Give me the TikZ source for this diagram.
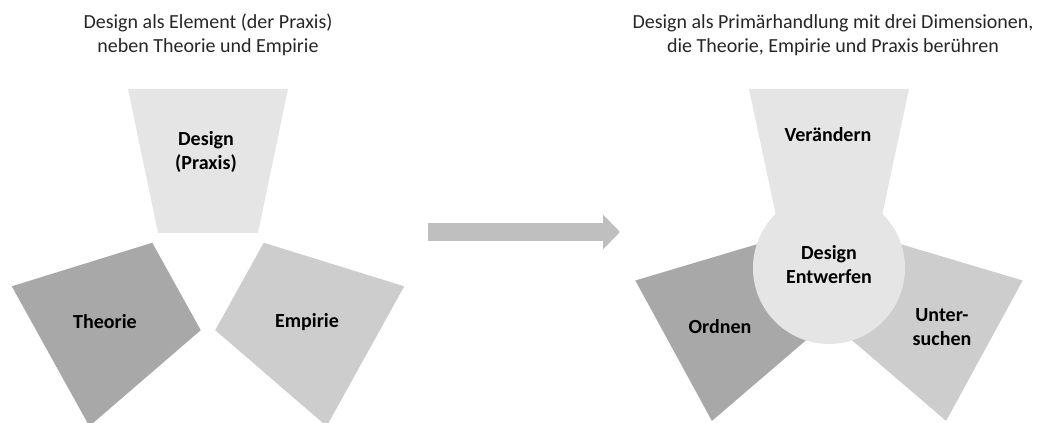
\documentclass[tikz,border=0pt]{standalone}
\usepackage{fontspec}
\setmainfont{Carlito}
\usepackage{xcolor}
\usetikzlibrary{arrows.meta}
\definecolor{petallight}{RGB}{229, 229, 229}
\definecolor{petaldark}{RGB}{168, 168, 168}
\definecolor{petalmid}{RGB}{205, 205, 205}
\definecolor{arrowgray}{RGB}{191, 191, 191}
\definecolor{titlegray}{RGB}{38, 38, 38}

\begin{document}
\begin{tikzpicture}[x=1pt, y=1pt]
    \tikzstyle{ttl} = [align=center, text=titlegray, font=\fontsize{20}{24}\selectfont]
    \tikzstyle{lbl} = [align=center, text=black, font=\fontsize{20}{24}\selectfont\bfseries]
    \tikzstyle{arr} = [-{Triangle[width=34pt, length=17pt]}, line width=18pt, color=arrowgray]

    \useasboundingbox (0,0) rectangle (1042,423);

    %% ── Left: three separate pieces ────────────────────────────────────────
    \foreach \ang/\col in {0/petallight, 119/petaldark, -119/petalmid}
      \fill[\col, shift={(208,154)}, rotate=\ang]
        (-50,36) -- (50,36) -- (80,180) -- (-80,180) -- cycle;

    \node[ttl] at (208,388) (lttl) {Design als Element (der Praxis)\\neben Theorie und Empirie};
    \node[lbl] at (206,271) (dsg)  {Design\\(Praxis)};
    \node[lbl] at (105,101) (theo) {Theorie};
    \node[lbl] at (307,101) (emp)  {Empirie};

    %% ── Middle arrow ───────────────────────────────────────────────────────
    \coordinate (arrs) at (428,191);
    \coordinate (arre) at (620,191);
    \draw[arr] (arrs) -- (arre);

    %% ── Right: three pieces around the centre circle ───────────────────────
    \foreach \ang/\col in {0/petallight, 118.6/petaldark, -118.6/petalmid}
      \fill[\col, shift={(829,157)}, rotate=\ang]
        (-50,36) -- (50,36) -- (80,177) -- (-80,177) -- cycle;
    \fill[petallight] (829,155) circle (76);

    \node[ttl] at (833,388) (rttl) {Design als Primärhandlung mit drei Dimensionen,\\die Theorie, Empirie und Praxis berühren};
    \node[lbl] at (828,288) (ver)  {Verändern};
    \node[lbl] at (829,158) (ent)  {Design\\Entwerfen};
    \node[lbl] at (720,96)  (ord)  {Ordnen};
    \node[lbl] at (942,96)  (unt)  {Unter-\\suchen};
\end{tikzpicture}
\end{document}
